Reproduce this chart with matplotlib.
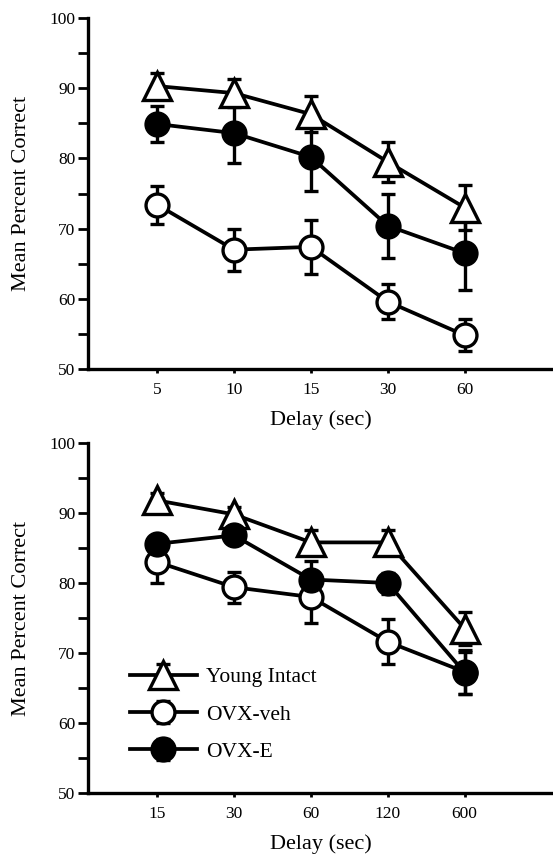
import matplotlib
matplotlib.use("Agg")
import matplotlib.pyplot as plt
from matplotlib.ticker import MultipleLocator

plt.rcParams['font.family'] = ['Liberation Serif', 'DejaVu Serif']

# ---- Data ----
top_delays = ["5", "10", "15", "30", "60"]
top_young = [90.3, 89.3, 86.3, 79.5, 73.0]
top_young_err = [1.8, 2.0, 2.6, 2.8, 3.2]
top_veh = [73.4, 67.0, 67.4, 59.6, 54.8]
top_veh_err = [2.7, 3.0, 3.8, 2.5, 2.3]
top_e = [84.9, 83.6, 80.2, 70.4, 66.5]
top_e_err = [2.5, 4.2, 4.8, 4.6, 5.2]

bot_delays = ["15", "30", "60", "120", "600"]
bot_young = [91.8, 89.8, 85.8, 85.8, 73.5]
bot_young_err = [1.0, 1.0, 1.8, 1.8, 2.4]
bot_veh = [83.0, 79.4, 78.0, 71.6, 67.3]
bot_veh_err = [3.0, 2.2, 3.7, 3.2, 3.2]
bot_e = [85.6, 86.8, 80.5, 80.0, 67.2]
bot_e_err = [1.0, 1.0, 2.7, 1.5, 3.0]

series_labels = ["Young Intact", "OVX-veh", "OVX-E"]

W, H = 553, 857
fig = plt.figure(figsize=(W / 100, H / 100), dpi=100)
ax1 = fig.add_axes([88 / W, 488 / H, 1 - 88 / W, (839 - 488) / H])
ax2 = fig.add_axes([88 / W, 64 / H, 1 - 88 / W, (414 - 64) / H])

LW = 2.7

def draw(ax, cats, young, yerr, veh, verr, e, eerr):
    x = list(range(1, len(cats) + 1))
    common = dict(color='black', ecolor='black', elinewidth=2.4, capsize=5,
                  capthick=2.4, linewidth=LW, mec='black', mew=2.4)
    h1 = ax.errorbar(x, young, yerr=yerr, marker='^', ms=20, mfc='white',
                     zorder=3, **common)
    h2 = ax.errorbar(x, veh, yerr=verr, marker='o', ms=16.5, mfc='white',
                     zorder=3, **common)
    h3 = ax.errorbar(x, e, yerr=eerr, marker='o', ms=16.5, mfc='black',
                     zorder=3, **common)
    ax.set_xticks(x)
    ax.set_xticklabels(cats)
    ax.set_xlim(0.1, 6.15)
    ax.set_ylim(50, 100)
    ax.yaxis.set_major_locator(MultipleLocator(10))
    ax.yaxis.set_minor_locator(MultipleLocator(5))
    for s in ['top', 'right']:
        ax.spines[s].set_visible(False)
    for s in ['left', 'bottom']:
        ax.spines[s].set_linewidth(2.4)
    ax.tick_params(axis='y', which='both', direction='out', length=7, width=2,
                   labelsize=12.5, pad=2)
    ax.tick_params(axis='x', direction='out', length=3, width=2,
                   labelsize=12.5, pad=6)
    ax.set_ylabel("Mean Percent Correct", fontsize=16)
    ax.yaxis.set_label_coords(-(88 - 31) / 465, 0.5)
    ax.set_xlabel("Delay (sec)", fontsize=16, labelpad=9)
    return h1, h2, h3

draw(ax1, top_delays, top_young, top_young_err, top_veh, top_veh_err, top_e, top_e_err)
hs = draw(ax2, bot_delays, bot_young, bot_young_err, bot_veh, bot_veh_err, bot_e, bot_e_err)

leg = ax2.legend(hs, series_labels, loc='lower left',
                 bbox_to_anchor=((130 - 88) / 465, (793 - 762) / 350),
                 frameon=False, fontsize=15.5, handlelength=3.1, labelspacing=0.8,
                 handletextpad=0.45, borderpad=0, borderaxespad=0)

fig.savefig("out.png", dpi=100)
